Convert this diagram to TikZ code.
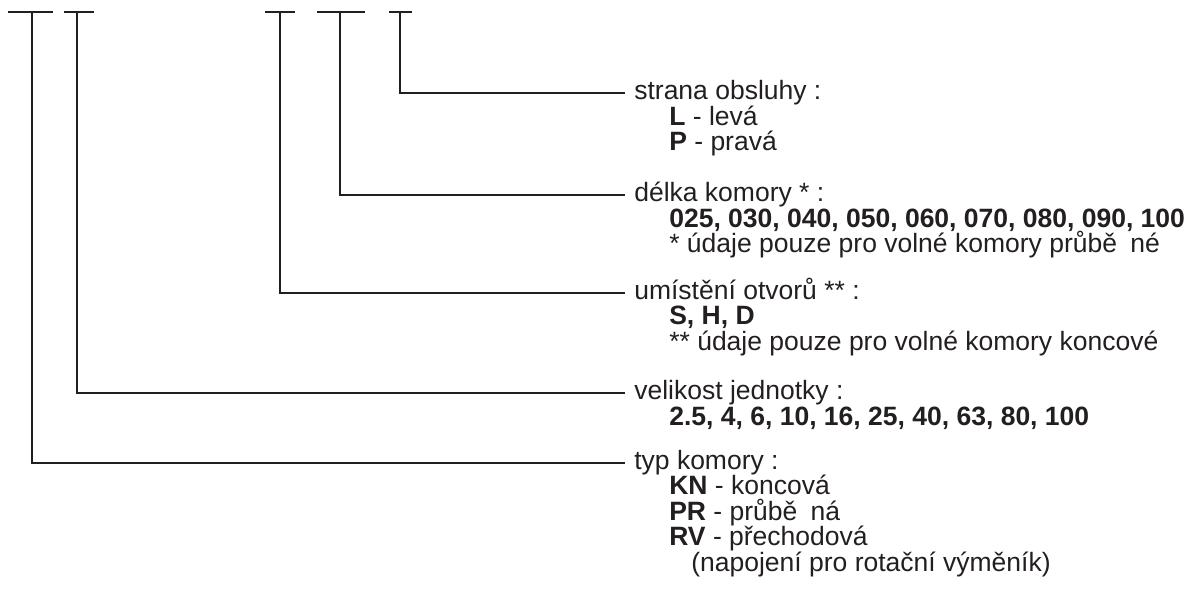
\documentclass[tikz,border=0pt]{standalone}
\usepackage{fontspec}
\setmainfont{Liberation Sans}
\usepackage{tikz}
\definecolor{ink}{RGB}{35,31,32}

\begin{document}
\begin{tikzpicture}[x=0.5pt,y=-0.5pt,line width=1.3pt,color=ink]
\tikzstyle{head}=[anchor=west,inner xsep=4pt,inner ysep=0pt,text height=9.5pt,text depth=2.8pt]
\tikzstyle{item}=[anchor=west,inner sep=0pt,text height=9.5pt,text depth=2.8pt]
\useasboundingbox (0,0) rectangle (1188,594);
\fontsize{13.25}{13.25}\selectfont
% stems of the code
\coordinate (s1) at (32,12);
\coordinate (s2) at (77,12);
\coordinate (s3) at (280,12);
\coordinate (s4) at (340,12);
\coordinate (s5) at (400,12);
\draw ([xshift=-12pt]s1) -- ([xshift=10.5pt]s1);
\draw ([xshift=-6.5pt]s2) -- ([xshift=8.5pt]s2);
\draw ([xshift=-7.5pt]s3) -- ([xshift=7.5pt]s3);
\draw ([xshift=-11.5pt]s4) -- ([xshift=12.5pt]s4);
\draw ([xshift=-5.5pt]s5) -- ([xshift=6pt]s5);
% strana obsluhy
\node [head] (strana) at (625,93) {strana obsluhy :};
\node [item] (strL) at (668,119) {\textbf{L} - levá};
\node [item] (strP) at (668,144) {\textbf{P} - pravá};
% delka komory
\node [head] (delka) at (625,195) {délka komory * :};
\node [item] (delV) at (668,221) {\textbf{025, 030, 040, 050, 060, 070, 080, 090, 100}};
\node [item] (delN) at (668,246) {* údaje pouze pro volné komory průbě\hspace{0.5em}né};
% umisteni otvoru
\node [head] (umist) at (625,293) {umístění otvorů ** :};
\node [item] (umiV) at (668,318) {\textbf{S, H, D}};
\node [item] (umiN) at (668,344) {** údaje pouze pro volné komory koncové};
% velikost jednotky
\node [head] (velik) at (625,393) {velikost jednotky :};
\node [item] (velV) at (668,419) {\textbf{2.5, 4, 6, 10, 16, 25, 40, 63, 80, 100}};
% typ komory
\node [head] (typ) at (625,463) {typ komory :};
\node [item] (typKN) at (668,488) {\textbf{KN} - koncová};
\node [item] (typPR) at (668,514) {\textbf{PR} - průbě\hspace{0.5em}ná};
\node [item] (typRV) at (668,539) {\textbf{RV} - přechodová};
\node [item] (typNap) at (690,565) {(napojení pro rotační výměník)};
% connectors
\draw (s5) |- (strana.west);
\draw (s4) |- (delka.west);
\draw (s3) |- (umist.west);
\draw (s2) |- (velik.west);
\draw (s1) |- (typ.west);
\end{tikzpicture}
\end{document}
